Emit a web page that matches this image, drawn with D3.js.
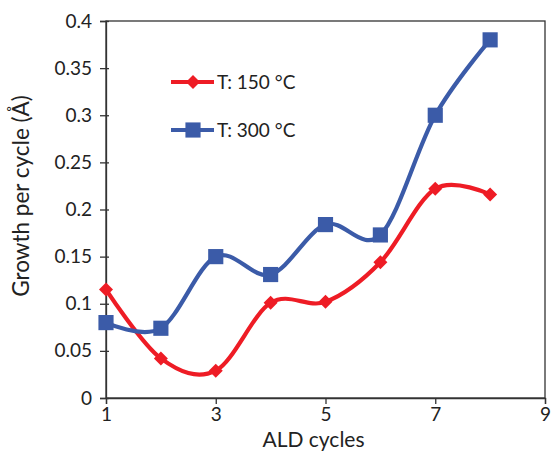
<!DOCTYPE html>
<html><head><meta charset="utf-8">
<script src="https://cdn.jsdelivr.net/npm/d3@7"></script>
<style>body{margin:0;background:#fff}svg{display:block}text{font-family:Lato,"Open Sans",sans-serif;fill:#222}</style>
</head><body>
<script>
const cycles = [1,2,3,4,5,6,7,8];
const gpc150 = [0.115,0.042,0.029,0.101,0.102,0.144,0.222,0.216];
const gpc300 = [0.080,0.074,0.150,0.131,0.184,0.173,0.300,0.380];
const xTicks = [1,3,5,7,9];
const yTicks = [0,0.05,0.1,0.15,0.2,0.25,0.3,0.35,0.4];
const seriesNames = ["T: 150 °C","T: 300 °C"];

const W=551,H=455, m={l:106,r:6,t:21,b:57};
const svg=d3.select("body").append("svg").attr("width",W).attr("height",H);
const x=d3.scaleLinear().domain([1,9]).range([m.l,W-m.r]);
const y=d3.scaleLinear().domain([0,0.4]).range([H-m.b,m.t]);

// frame
svg.append("rect").attr("x",x(1)).attr("y",y(0.4)).attr("width",x(9)-x(1)).attr("height",y(0)-y(0.4))
  .attr("fill","none").attr("stroke","#333").attr("stroke-width",1.3);

const ya=svg.append("g").attr("transform",`translate(${x(1)},0)`)
  .call(d3.axisLeft(y).tickValues(yTicks).tickSize(6).tickPadding(8).tickFormat(d=>d===0?"0":String(+d.toFixed(2))));
const xa=svg.append("g").attr("transform",`translate(0,${y(0)})`)
  .call(d3.axisBottom(x).tickValues(xTicks).tickSize(6).tickPadding(4));
[ya,xa].forEach(g=>{g.select(".domain").attr("stroke","#333").attr("stroke-width",1.3);
  g.selectAll(".tick line").attr("stroke","#333").attr("stroke-width",1.3);
  g.selectAll("text").style("font-size","19px").attr("fill","#222");});
ya.selectAll(".tick line").attr("x2",-6).attr("x1",3);

svg.append("text").attr("transform",`translate(29,196) rotate(-90)`)
  .attr("text-anchor","middle").style("font-size","22.5px").text("Growth per cycle (Å)");
svg.append("text").attr("x",(x(1)+x(9))/2-12).attr("y",447).attr("text-anchor","middle")
  .style("font-size","21px").text("ALD cycles");

const red="#ee1c25", blue="#3b5ba8";
const line=d3.line().x((d,i)=>x(cycles[i])).y(d=>y(d)).curve(d3.curveCardinal.tension(0));
const diamond=d3.symbol().type(d3.symbolDiamond2).size(125);
const square=d3.symbol().type(d3.symbolSquare).size(230);

svg.append("path").attr("d",line(gpc150)).attr("fill","none").attr("stroke",red).attr("stroke-width",4.2);
svg.append("path").attr("d",line(gpc300)).attr("fill","none").attr("stroke",blue).attr("stroke-width",4.2);
svg.selectAll(".m150").data(gpc150).enter().append("path").attr("d",diamond)
  .attr("transform",(d,i)=>`translate(${x(cycles[i])},${y(d)})`).attr("fill",red);
svg.selectAll(".m300").data(gpc300).enter().append("path").attr("d",square)
  .attr("transform",(d,i)=>`translate(${x(cycles[i])},${y(d)})`).attr("fill",blue);

// legend
const leg=[{c:red,s:diamond,y:82},{c:blue,s:square,y:130}];
leg.forEach((l,i)=>{
  svg.append("line").attr("x1",171).attr("x2",214).attr("y1",l.y).attr("y2",l.y).attr("stroke",l.c).attr("stroke-width",4);
  svg.append("path").attr("d",l.s).attr("transform",`translate(193,${l.y})`).attr("fill",l.c);
  svg.append("text").attr("x",217).attr("y",l.y+7).style("font-size","19px").text(seriesNames[i]);
});
</script>
</body></html>
